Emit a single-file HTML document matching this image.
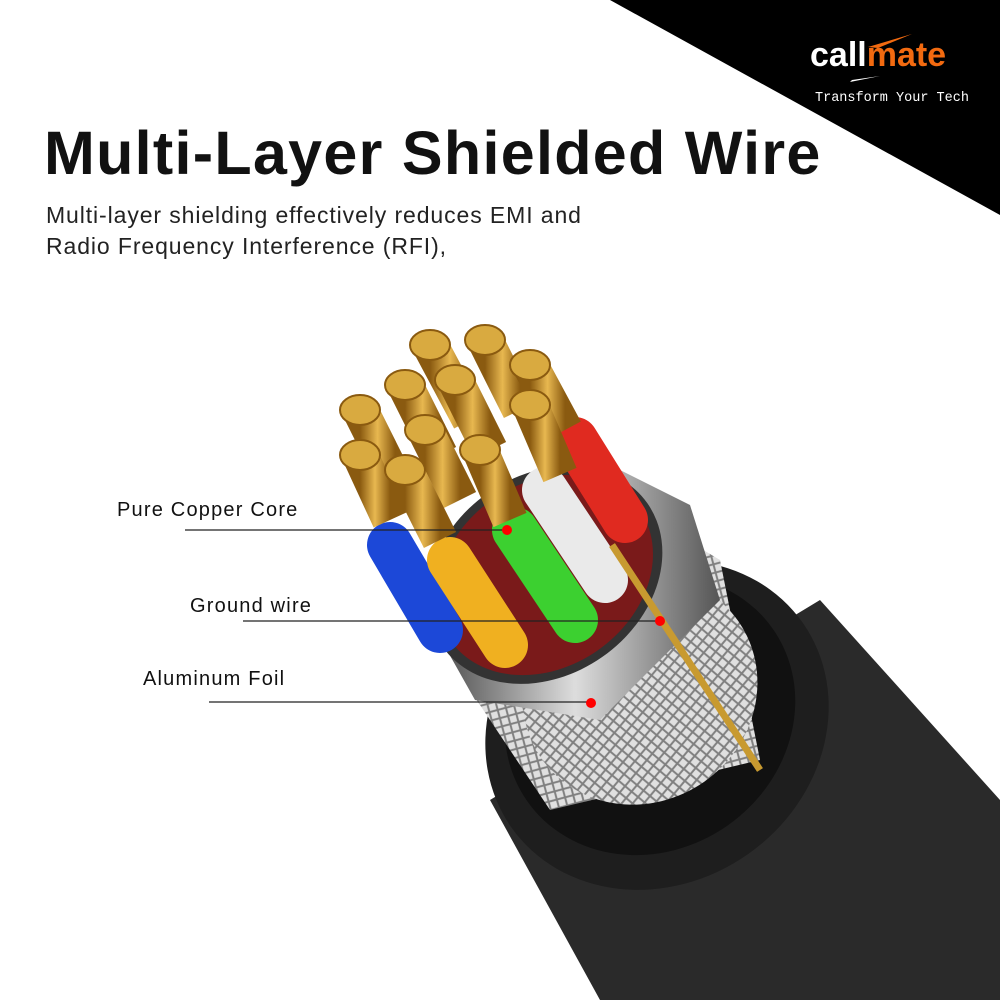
<!DOCTYPE html>
<html><head><style>
body{margin:0;width:1000px;height:1000px;background:#fff;overflow:hidden;position:relative;font-family:"Liberation Sans",sans-serif}
.t{position:absolute;white-space:nowrap;color:#111}
</style></head><body>
<svg width="1000" height="1000" style="position:absolute;left:0;top:0">
<defs>
<pattern id="br" width="12" height="12" patternUnits="userSpaceOnUse" patternTransform="rotate(30)">
<rect width="12" height="12" fill="#e0e0e0"/>
<path d="M0 0L12 12M12 0L0 12" stroke="#808080" stroke-width="2"/>
</pattern>
<linearGradient id="cu" x1="0" y1="0" x2="1" y2="0"><stop offset="0" stop-color="#8a5a10"/><stop offset=".5" stop-color="#e8b850"/><stop offset="1" stop-color="#8a5a10"/></linearGradient>
<linearGradient id="fo" x1="0" y1="0" x2="1" y2="0"><stop offset="0" stop-color="#444"/><stop offset=".5" stop-color="#ddd"/><stop offset="1" stop-color="#555"/></linearGradient>
</defs>
<polygon points="610,0 1000,0 1000,215" fill="#000"/>
<!-- jacket body -->
<polygon points="490,800 600,1000 1000,1000 1000,800 820,600" fill="#2a2a2a"/>
<ellipse cx="657" cy="725" rx="178" ry="158" transform="rotate(-35 657 725)" fill="#1e1e1e"/>
<ellipse cx="650" cy="715" rx="150" ry="135" transform="rotate(-35 650 715)" fill="#111"/>
<!-- braid -->
<polygon points="470,690 550,810 760,760 720,560 620,500" fill="url(#br)"/>
<ellipse cx="640" cy="690" rx="120" ry="112" transform="rotate(-35 640 690)" fill="url(#br)"/>
<!-- foil -->
<polygon points="430,620 475,700 600,720 720,600 690,505 600,460" fill="url(#fo)"/>
<ellipse cx="545" cy="575" rx="125" ry="100" transform="rotate(-35 545 575)" fill="#333"/>
<ellipse cx="545" cy="575" rx="115" ry="92" transform="rotate(-35 545 575)" fill="#7a1a1a"/>
<!-- wires -->
<g stroke-width="46" stroke-linecap="round">
<line x1="575" y1="440" x2="625" y2="520" stroke="#e02a20"/>
<line x1="545" y1="490" x2="605" y2="580" stroke="#eaeaea"/>
<line x1="515" y1="530" x2="575" y2="620" stroke="#3cd030"/>
<line x1="390" y1="545" x2="440" y2="630" stroke="#1c48d8"/>
<line x1="450" y1="560" x2="505" y2="645" stroke="#f0b020"/>
</g>
<line x1="612" y1="545" x2="760" y2="770" stroke="#c89a30" stroke-width="7"/>
<!-- copper -->
<g stroke="url(#cu)" stroke-width="36" stroke-linecap="butt">
<line x1="430" y1="345" x2="470" y2="420"/>
<line x1="485" y1="340" x2="520" y2="410"/>
<line x1="530" y1="365" x2="565" y2="430"/>
<line x1="360" y1="410" x2="395" y2="480"/>
<line x1="405" y1="385" x2="440" y2="455"/>
<line x1="455" y1="380" x2="490" y2="450"/>
<line x1="425" y1="430" x2="460" y2="500"/>
<line x1="530" y1="405" x2="560" y2="475"/>
<line x1="360" y1="455" x2="390" y2="520"/>
<line x1="405" y1="470" x2="440" y2="540"/>
<line x1="480" y1="450" x2="510" y2="520"/>
</g>
<g fill="#d9aa40" stroke="#8a5a10" stroke-width="2">
<ellipse cx="430" cy="345" rx="20" ry="15"/><ellipse cx="485" cy="340" rx="20" ry="15"/>
<ellipse cx="530" cy="365" rx="20" ry="15"/><ellipse cx="360" cy="410" rx="20" ry="15"/>
<ellipse cx="405" cy="385" rx="20" ry="15"/><ellipse cx="455" cy="380" rx="20" ry="15"/>
<ellipse cx="425" cy="430" rx="20" ry="15"/><ellipse cx="530" cy="405" rx="20" ry="15"/>
<ellipse cx="360" cy="455" rx="20" ry="15"/><ellipse cx="405" cy="470" rx="20" ry="15"/>
<ellipse cx="480" cy="450" rx="20" ry="15"/>
</g>
<!-- callouts -->
<g stroke="#222" stroke-width="1.2">
<line x1="185" y1="530" x2="505" y2="530"/>
<line x1="243" y1="621" x2="660" y2="621"/>
<line x1="209" y1="702" x2="590" y2="702"/>
</g>
<g fill="#f00"><circle cx="507" cy="530" r="5"/><circle cx="660" cy="621" r="5"/><circle cx="591" cy="703" r="5"/></g>
<polygon points="868,47 912,34 878,48" fill="#f26a10"/>
<polygon points="852,80 880,76 850,82" fill="#fff"/>
</svg>
<div class="t" style="left:810px;top:36px;font-size:34px;font-weight:bold;letter-spacing:0px"><span style="color:#fff">call</span><span style="color:#f26a10">mate</span></div>
<div class="t" style="left:815px;top:91px;font-size:13.5px;color:#fff;font-family:'Liberation Mono',monospace">Transform Your Tech</div>
<div class="t" style="left:44px;top:118px;font-size:61px;font-weight:bold;letter-spacing:1.3px">Multi-Layer Shielded Wire</div>
<div class="t" style="left:46px;top:200px;font-size:23px;line-height:31px;color:#222;letter-spacing:0.9px">Multi-layer shielding effectively reduces EMI and<br>Radio Frequency Interference (RFI),</div>
<div class="t" style="left:117px;top:499px;font-size:20px;letter-spacing:1.2px">Pure Copper Core</div>
<div class="t" style="left:190px;top:595px;font-size:20px;letter-spacing:1.2px">Ground wire</div>
<div class="t" style="left:143px;top:668px;font-size:20px;letter-spacing:1.2px">Aluminum Foil</div>
</body></html>
